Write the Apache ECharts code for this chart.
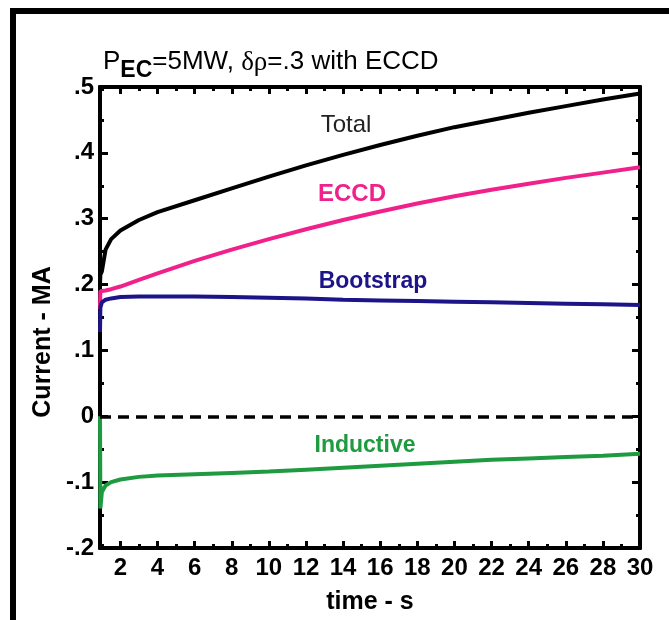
<!DOCTYPE html>
<html>
<head>
<meta charset="utf-8">
<script src="https://cdn.jsdelivr.net/npm/echarts@6/dist/echarts.min.js"></script>
<style>
  html, body { margin: 0; padding: 0; background: #fff; }
  #chart { width: 669px; height: 620px; }
</style>
</head>
<body>
<div id="chart"></div>
<script>
// time - s
const time = [0.9, 0.92, 1.0, 1.2, 1.5, 2, 3, 4, 6, 8, 10, 12, 14, 16, 18, 20, 22, 24, 26, 28, 30];
// Current - MA
const total = [0.20, 0.215, 0.22, 0.253, 0.269, 0.282, 0.298, 0.31, 0.328, 0.346, 0.364, 0.381, 0.397, 0.412, 0.426, 0.439, 0.45, 0.461, 0.471, 0.481, 0.49];
const eccd = [0.163, 0.19, 0.19, 0.191, 0.193, 0.197, 0.207, 0.217, 0.236, 0.253, 0.269, 0.284, 0.298, 0.311, 0.323, 0.334, 0.344, 0.353, 0.362, 0.37, 0.378];
const bootstrap = [0.128, 0.165, 0.173, 0.177, 0.179, 0.181, 0.182, 0.182, 0.182, 0.181, 0.18, 0.179, 0.177, 0.176, 0.175, 0.174, 0.173, 0.172, 0.171, 0.17, 0.169];
const inductive = [0, -0.14, -0.115, -0.105, -0.1, -0.096, -0.092, -0.09, -0.088, -0.086, -0.084, -0.081, -0.078, -0.075, -0.072, -0.069, -0.066, -0.064, -0.062, -0.06, -0.057];

// ticks
const majorX = [2, 4, 6, 8, 10, 12, 14, 16, 18, 20, 22, 24, 26, 28, 30];
const minorX = [1, 3, 5, 7, 9, 11, 13, 15, 17, 19, 21, 23, 25, 27, 29];

const pairs = arr => time.map((t, i) => [t, arr[i]]);

const font = 'Liberation Sans';

function xAxisOf(position, ticks, len, showLabel) {
    return {
        type: 'value',
        position: position,
        min: 0.9,
        max: 30,
        axisLine: { show: true, onZero: false, lineStyle: { color: '#000', width: 4 } },
        axisTick: {
            show: true,
            inside: true,
            length: len,
            customValues: ticks,
            lineStyle: { color: '#000', width: 3 },
        },
        axisLabel: {
            show: showLabel,
            customValues: ticks,
            color: '#000',
            fontFamily: font,
            fontWeight: 'bold',
            fontSize: 24,
            margin: 8,
        },
        splitLine: { show: false },
    };
}

function yAxisOf(position, showLabel) {
    return {
        type: 'value',
        position: position,
        min: -0.2,
        max: 0.5,
        interval: 0.1,
        axisLine: { show: true, onZero: false, lineStyle: { color: '#000', width: 4 } },
        axisTick: {
            show: true,
            inside: true,
            length: 8,
            lineStyle: { color: '#000', width: 3 },
        },
        minorTick: {
            show: true,
            splitNumber: 2,
            length: 4,
            lineStyle: { color: '#000', width: 3 },
        },
        axisLabel: {
            show: showLabel,
            color: '#000',
            fontFamily: font,
            fontWeight: 'bold',
            fontSize: 24,
            margin: 6,
            formatter: v => {
                const r = Math.round(v * 10) / 10;
                return r === 0 ? '0' : String(r).replace('0.', '.');
            },
        },
        splitLine: { show: false },
    };
}

const chart = echarts.init(document.getElementById('chart'));

const line = (name, data, color) => ({
    name: name,
    type: 'line',
    data: pairs(data),
    showSymbol: false,
    symbol: 'none',
    lineStyle: { color: color, width: 4 },
    z: 3,
});

chart.setOption({
    animation: false,
    title: {
        text: '{p|P}{s|EC}{n|=5MW, }{g|δρ}{n|=.3 with ECCD}',
        left: 98,
        top: 44,
        textStyle: {
            fontWeight: 'normal',
            rich: {
                p: { fontFamily: font, fontSize: 26, fontWeight: 'normal', color: '#000', lineHeight: 28, verticalAlign: 'top' },
                n: { fontFamily: font, fontSize: 26, fontWeight: 'normal', color: '#000', lineHeight: 28, verticalAlign: 'top' },
                g: { fontFamily: 'Liberation Serif', fontSize: 27, fontWeight: 'normal', color: '#000', lineHeight: 28, verticalAlign: 'top' },
                s: { fontFamily: font, fontSize: 23, fontWeight: 'bold', color: '#000', lineHeight: 23, padding: [10, 0, 0, 0], verticalAlign: 'top' },
            },
        },
    },
    grid: { left: 100, right: 29, top: 87, bottom: 70, containLabel: false },
    xAxis: [
        Object.assign(xAxisOf('bottom', majorX, 7, true), {
            name: 'time - s',
            nameLocation: 'middle',
            nameGap: 42,
            nameTextStyle: { color: '#000', fontFamily: font, fontWeight: 'bold', fontSize: 25 },
        }),
        xAxisOf('bottom', minorX, 4, false),
        xAxisOf('top', majorX, 7, false),
        xAxisOf('top', minorX, 4, false),
    ],
    yAxis: [
        yAxisOf('left', true),
        yAxisOf('right', false),
    ],
    series: [
        Object.assign(line('Total', total, '#000000'), {
            markLine: {
                silent: true,
                symbol: 'none',
                label: { show: false },
                lineStyle: { color: '#000', width: 3.5, type: [11, 7] },
                data: [{ yAxis: 0 }],
            },
        }),
        line('ECCD', eccd, '#f0218a'),
        line('Bootstrap', bootstrap, '#1c1488'),
        line('Inductive', inductive, '#1e9a3f'),
    ],
    graphic: [
        // frame edges
        { type: 'rect', shape: { x: 10, y: 8, width: 659, height: 6 }, style: { fill: '#000' } },
        { type: 'rect', shape: { x: 10, y: 8, width: 6, height: 612 }, style: { fill: '#000' } },
        // y axis name
        { type: 'text', x: 43, y: 342, rotation: Math.PI / 2, style: { text: 'Current - MA', fill: '#000', font: 'bold 25px "Liberation Sans"', align: 'center', verticalAlign: 'middle' } },
        // curve labels
        { type: 'text', x: 346, y: 125, style: { text: 'Total', fill: '#222', font: '24px "Liberation Sans"', align: 'center', verticalAlign: 'middle' } },
        { type: 'text', x: 352, y: 194, style: { text: 'ECCD', fill: '#f0218a', font: 'bold 24px "Liberation Sans"', align: 'center', verticalAlign: 'middle' } },
        { type: 'text', x: 373, y: 282, style: { text: 'Bootstrap', fill: '#1c1488', font: 'bold 23px "Liberation Sans"', align: 'center', verticalAlign: 'middle' } },
        { type: 'text', x: 365, y: 446, style: { text: 'Inductive', fill: '#1e9a3f', font: 'bold 23px "Liberation Sans"', align: 'center', verticalAlign: 'middle' } },
    ],
});
</script>
</body>
</html>
